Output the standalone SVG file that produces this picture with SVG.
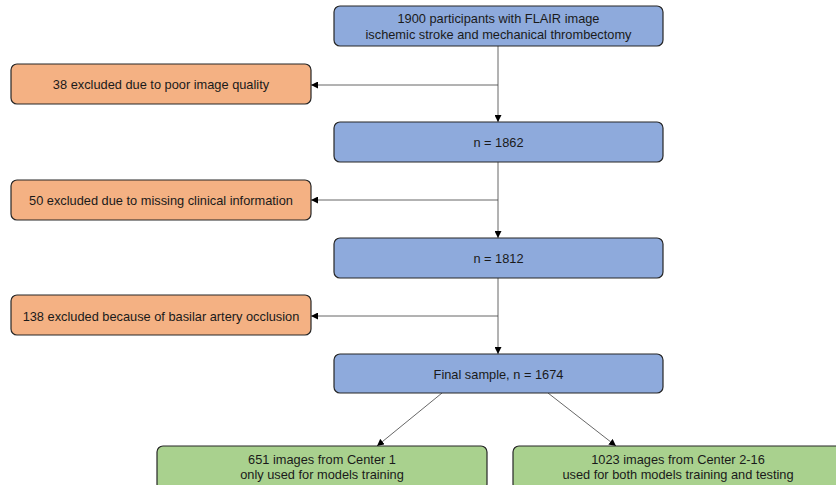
<svg xmlns="http://www.w3.org/2000/svg" width="836" height="485" viewBox="0 0 836 485">
<defs>
<style>
.box{stroke:#262626;stroke-width:1.2}
.blue{fill:#8eaadc}
.orange{fill:#f4b183}
.green{fill:#a9d18e}
text{font-family:"Liberation Sans",Arial,sans-serif;font-size:12.8px;fill:#1a1a1a;text-anchor:middle;dominant-baseline:central}
.conn{stroke:#404040;stroke-width:0.8;fill:none}
</style>
<marker id="arr" viewBox="0 0 10 10" refX="10" refY="5" markerWidth="7" markerHeight="7" orient="auto" markerUnits="userSpaceOnUse">
<path d="M0,0 L10,5 L0,10 z" fill="#000"/>
</marker>
</defs>
<g id="connectors">
<line class="conn" x1="498" y1="46" x2="498" y2="122" marker-end="url(#arr)"/>
<line class="conn" x1="498" y1="85" x2="311" y2="85" marker-end="url(#arr)"/>
<line class="conn" x1="498" y1="162" x2="498" y2="238" marker-end="url(#arr)"/>
<line class="conn" x1="498" y1="200" x2="311" y2="200" marker-end="url(#arr)"/>
<line class="conn" x1="498" y1="278" x2="498" y2="354" marker-end="url(#arr)"/>
<line class="conn" x1="498" y1="316" x2="311" y2="316" marker-end="url(#arr)"/>
<line class="conn" x1="442" y1="393" x2="377" y2="446" marker-end="url(#arr)"/>
<line class="conn" x1="548" y1="393" x2="616" y2="446" marker-end="url(#arr)"/>
</g>
<g id="node-start">
<rect class="box blue" x="334" y="6" width="329" height="40" rx="6"/>
<text x="498.5" y="18">1900 participants with FLAIR image</text>
<text x="498.5" y="34">ischemic stroke and mechanical thrombectomy</text>
</g>
<g id="node-excl1">
<rect class="box orange" x="11" y="64" width="300" height="40" rx="6"/>
<text x="161" y="84">38 excluded due to poor image quality</text>
</g>
<g id="node-n1862">
<rect class="box blue" x="334" y="122" width="329" height="40" rx="6"/>
<text x="498.5" y="142">n = 1862</text>
</g>
<g id="node-excl2">
<rect class="box orange" x="11" y="180" width="300" height="40" rx="6"/>
<text x="161" y="200">50 excluded due to missing clinical information</text>
</g>
<g id="node-n1812">
<rect class="box blue" x="334" y="238" width="329" height="40" rx="6"/>
<text x="498.5" y="258">n = 1812</text>
</g>
<g id="node-excl3">
<rect class="box orange" x="11" y="295" width="300" height="40" rx="6"/>
<text x="161" y="316">138 excluded because of basilar artery occlusion</text>
</g>
<g id="node-final">
<rect class="box blue" x="334" y="354" width="329" height="39" rx="6"/>
<text x="498.5" y="374">Final sample, n = 1674</text>
</g>
<g id="node-center1">
<rect class="box green" x="157" y="446" width="330" height="44" rx="6"/>
<text x="322" y="459">651 images from Center 1</text>
<text x="322" y="474">only used for models training</text>
</g>
<g id="node-center2">
<rect class="box green" x="513" y="446" width="330" height="44" rx="6"/>
<text x="678" y="459">1023 images from Center 2-16</text>
<text x="678" y="474">used for both models training and testing</text>
</g>
</svg>
